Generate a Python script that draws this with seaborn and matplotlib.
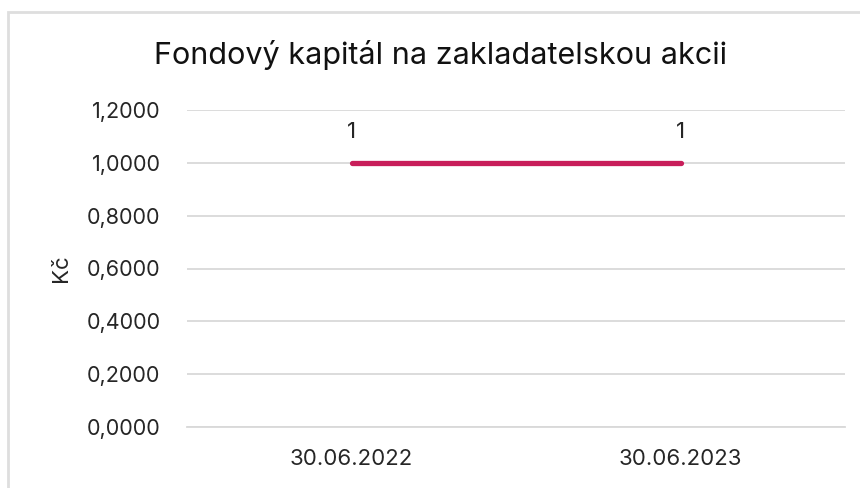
import matplotlib
matplotlib.use('Agg')
import matplotlib.pyplot as plt
import matplotlib.patches as patches
import seaborn as sns
import pandas as pd

dates = ['30.06.2022', '30.06.2023']
values = [1.0, 1.0]
labels = ['1', '1']
y_ticks = [0.0, 0.2, 0.4, 0.6, 0.8, 1.0, 1.2]

df = pd.DataFrame({'date': dates, 'value': values})

sns.set_theme(style='white')
plt.rcParams['font.family'] = ['Inter', 'DejaVu Sans']

fig = plt.figure(figsize=(8.6, 4.88), dpi=100)
ax = fig.add_axes([187 / 860, 1 - 427 / 488, (845 - 187) / 860, (427 - 110) / 488])

# light outer border like the exported chart
fig.patches.append(patches.Rectangle((8 / 860, -0.05), 1.2, 1 - 12 / 488 + 0.05,
                                     transform=fig.transFigure, fill=False,
                                     edgecolor='#dedede', linewidth=2))

sns.lineplot(data=df, x='date', y='value', ax=ax, color='#c81e5a',
             linewidth=3.8, solid_capstyle='round', sort=False)

for i, (v, lab) in enumerate(zip(values, labels)):
    ax.annotate(lab, (i, v), xytext=(0, 15), textcoords='offset points',
                ha='center', va='bottom', fontsize=16, color='#262626')

ax.set_xlim(-0.5, 1.5)
ax.set_ylim(0, 1.2)
ax.set_yticks(y_ticks)
ax.set_yticklabels([f'{t:.4f}'.replace('.', ',') for t in y_ticks])
ax.yaxis.grid(True, color='#d9d9d9', linewidth=1.3)
ax.set_axisbelow(True)
for s in ['top', 'right', 'left']:
    ax.spines[s].set_visible(False)
ax.spines['bottom'].set_color('#d9d9d9')
ax.spines['bottom'].set_linewidth(1.3)

# category boundary ticks
ax.set_xticks([0, 1])
ax.set_xticklabels(dates)
ax.set_xticks([-0.5, 0.5, 1.5], minor=True)
ax.tick_params(axis='x', which='major', length=0, pad=16, labelsize=16, labelcolor='#262626')
ax.tick_params(axis='x', which='minor', length=7, width=1.3, color='#d9d9d9', direction='out')
ax.tick_params(axis='y', length=0, pad=19, labelsize=15.5, labelcolor='#262626')

ax.set_xlabel('')
ax.set_ylabel('Kč', fontsize=16, color='#262626', labelpad=11)
fig.text(440 / 860, 1 - 55 / 488, 'Fondový kapitál na zakladatelskou akcii',
         ha='center', va='center', fontsize=22, color='#111111')

fig.savefig('out.png', dpi=100, facecolor='white')
